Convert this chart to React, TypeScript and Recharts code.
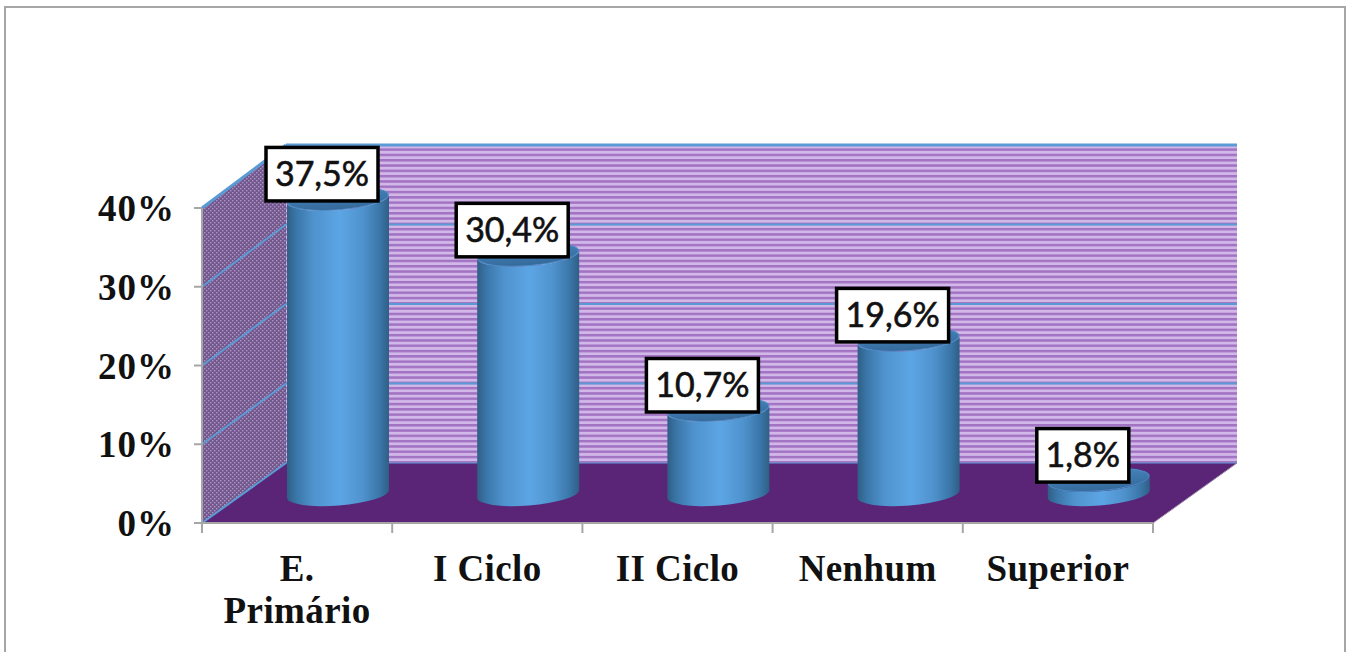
import React from 'react';
import { BarChart, Bar, XAxis, YAxis, ReferenceArea, LabelList } from 'recharts';

const categories = ['E.\nPrimário', 'I Ciclo', 'II Ciclo', 'Nenhum', 'Superior'];
const values = [37.5, 30.4, 10.7, 19.6, 1.8];
const yTicks = [0, 10, 20, 30, 40];

const data = categories.map((name, i) => ({ name, value: values[i] }));

const WIDTH = 1347;
const HEIGHT = 652;
const MARGIN_TOP = 208;
const MARGIN_RIGHT = 194;
const AXIS_LEFT = 202;
const AXIS_HEIGHT = 129;
const AXIS_Y = HEIGHT - AXIS_HEIGHT;
const BAND = (WIDTH - AXIS_LEFT - MARGIN_RIGHT) / categories.length;

// oblique projection of the 3D box
const WALL_DX = 84;
const WALL_DY_BOTTOM = 60;
const WALL_DY_TOP = 63;
const BAR_DX = 41;
const BAR_DY = 29;
const RX = 51;
const RY = 11.5;
const TILT = -4.5;
const TILT_RISE = 4;

const AXIS_FONT = '"Liberation Serif", "Times New Roman", serif';
const LABEL_FONT = 'Lato, "Noto Sans", sans-serif';
const AXIS_GRAY = '#a6a6a6';

const formatValue = (v: number) => `${v.toFixed(1).replace('.', ',')}%`;

// side wall, back wall, floor and their grid lines
const Walls = ({ x, y, width, height }: any) => {
  const bottom = y + height;
  const right = x + width;
  const backTop = y - WALL_DY_TOP;
  const backBottom = bottom - WALL_DY_BOTTOM;
  const backLeft = x + WALL_DX;
  const backRight = right + WALL_DX;
  const frontAt = (t: number) => bottom - (t / 40) * height;
  const backAt = (t: number) => backBottom - (t / 40) * (backBottom - backTop);

  return (
    <g>
      <rect x={backLeft} y={backTop} width={width} height={backBottom - backTop} fill="url(#backStripes)" />
      <polygon
        points={`${x},${y} ${backLeft},${backTop} ${backLeft},${backBottom} ${x},${bottom}`}
        fill="url(#sideDots)"
      />
      {yTicks.filter((t) => t > 0).map((t) => (
        <g key={t} stroke="#5b9bd5" strokeWidth={t === 40 ? 3 : 2}>
          <line x1={x} y1={frontAt(t)} x2={backLeft} y2={backAt(t)} />
          <line x1={backLeft} y1={backAt(t)} x2={backRight} y2={backAt(t)} />
        </g>
      ))}
      <polygon
        points={`${x},${bottom} ${backLeft},${backBottom} ${backRight},${backBottom} ${right},${bottom}`}
        fill="#5a2577"
      />
      <line x1={x} y1={bottom} x2={backLeft} y2={backBottom} stroke="#5b9bd5" strokeWidth={2} />
      <line x1={backLeft} y1={backBottom} x2={backRight} y2={backBottom} stroke="#5b9bd5" strokeWidth={1} />
      <line x1={right} y1={bottom} x2={backRight} y2={backBottom} stroke="#9a86a8" strokeWidth={1} />
    </g>
  );
};

// cylinder sitting halfway into the depth of the box
const Cylinder = ({ x, y, width, height }: any) => {
  const cx = x + width / 2 + BAR_DX;
  const topY = y - BAR_DY;
  const baseY = y + height - BAR_DY;
  const left = cx - RX;
  const right = cx + RX;
  const body =
    `M${left},${topY + TILT_RISE} L${left},${baseY + TILT_RISE} ` +
    `A${RX},${RY} ${TILT} 0 0 ${right},${baseY - TILT_RISE} ` +
    `L${right},${topY - TILT_RISE} ` +
    `A${RX},${RY} ${TILT} 0 1 ${left},${topY + TILT_RISE} Z`;
  return (
    <g>
      <path d={body} fill="url(#cylinderSide)" />
      <ellipse
        cx={cx}
        cy={topY}
        rx={RX - 0.5}
        ry={RY - 0.5}
        transform={`rotate(${TILT} ${cx} ${topY})`}
        fill="url(#cylinderTop)"
        stroke="#4a8bc4"
        strokeWidth={1}
      />
    </g>
  );
};

const ValueBox = ({ x, y, width, value }: any) => {
  const text = formatValue(value);
  const boxW = text.length * 20 + 12;
  const boxH = 53.5;
  const cx = x + width / 2 + BAR_DX - 16;
  const cy = y - BAR_DY - 24.5;
  return (
    <g>
      <rect x={cx - boxW / 2} y={cy - boxH / 2} width={boxW} height={boxH} fill="#ffffff" stroke="#000000" strokeWidth={3.5} />
      <text
        x={cx}
        y={cy + 12}
        textAnchor="middle"
        fontFamily={LABEL_FONT}
        fontSize={34}
        stroke="#111111"
        strokeWidth={0.6}
        fill="#111111"
      >
        {text}
      </text>
    </g>
  );
};

// tick marks fall on the band edges, labels on the band centres
const CategoryTick = ({ x, index, payload }: any) => (
  <g>
    {index === 0 && (
      <line x1={x - BAND / 2} y1={AXIS_Y} x2={x - BAND / 2} y2={AXIS_Y + 10} stroke={AXIS_GRAY} strokeWidth={2} />
    )}
    <line x1={x + BAND / 2} y1={AXIS_Y} x2={x + BAND / 2} y2={AXIS_Y + 10} stroke={AXIS_GRAY} strokeWidth={2} />
    <text
      x={x}
      textAnchor="middle"
      fontFamily={AXIS_FONT}
      fontWeight={700}
      fontSize={37}
      letterSpacing={0.4}
      fill="#111111"
    >
      {String(payload.value).split('\n').map((line, i) => (
        <tspan key={line} x={x} y={AXIS_Y + 57.5 + i * 42}>
          {line}
        </tspan>
      ))}
    </text>
  </g>
);

export default function App() {
  return (
    <div style={{ position: 'absolute', left: 0, top: 0, width: WIDTH, height: HEIGHT, overflow: 'hidden', background: '#ffffff' }}>
      <div
        style={{
          position: 'absolute',
          left: 4,
          top: 6,
          width: 1338,
          height: 660,
          border: `2px solid ${AXIS_GRAY}`,
        }}
      />
      <BarChart
        width={WIDTH}
        height={HEIGHT}
        data={data}
        margin={{ top: MARGIN_TOP, right: MARGIN_RIGHT, bottom: 0, left: 0 }}
        barSize={102}
        style={{ position: 'absolute', left: 0, top: 0 }}
      >
        <defs>
          <pattern id="backStripes" width={5} height={5.3} patternUnits="userSpaceOnUse">
            <rect width={5} height={5.3} fill="#d2b8e8" />
            <rect width={5} height={2.5} fill="#a272c3" />
          </pattern>
          <pattern id="sideDots" width={4} height={4} patternUnits="userSpaceOnUse">
            <rect width={4} height={4} fill="#735690" />
            <rect x={0} y={0} width={1.4} height={1.4} fill="#a99aba" />
            <rect x={2} y={2} width={1.4} height={1.4} fill="#a99aba" />
          </pattern>
          <linearGradient id="cylinderSide" x1="0" y1="0" x2="1" y2="0">
            <stop offset="0%" stopColor="#2f5f85" />
            <stop offset="9%" stopColor="#3a76a8" />
            <stop offset="26%" stopColor="#4f93ce" />
            <stop offset="52%" stopColor="#5ca5e4" />
            <stop offset="74%" stopColor="#4f93ce" />
            <stop offset="91%" stopColor="#3a76a8" />
            <stop offset="100%" stopColor="#2f5f85" />
          </linearGradient>
          <linearGradient id="cylinderTop" x1="0" y1="0" x2="0" y2="1">
            <stop offset="0%" stopColor="#4585bd" />
            <stop offset="100%" stopColor="#35699a" />
          </linearGradient>
        </defs>
        <XAxis
          dataKey="name"
          height={AXIS_HEIGHT}
          interval={0}
          tick={<CategoryTick />}
          tickLine={false}
          axisLine={{ stroke: AXIS_GRAY, strokeWidth: 2 }}
        />
        <YAxis
          width={AXIS_LEFT}
          domain={[0, 40]}
          ticks={yTicks}
          tickFormatter={(v: number) => `${v}%`}
          tick={{ fontFamily: AXIS_FONT, fontWeight: 700, fontSize: 37, letterSpacing: 1, fill: '#111111' }}
          tickLine={{ stroke: AXIS_GRAY, strokeWidth: 2 }}
          axisLine={{ stroke: AXIS_GRAY, strokeWidth: 2 }}
          tickSize={8}
          tickMargin={19}
        />
        <ReferenceArea y1={0} y2={40} shape={<Walls />} ifOverflow="visible" />
        <Bar dataKey="value" shape={<Cylinder />} isAnimationActive={false}>
          <LabelList dataKey="value" content={<ValueBox />} />
        </Bar>
      </BarChart>
    </div>
  );
}
